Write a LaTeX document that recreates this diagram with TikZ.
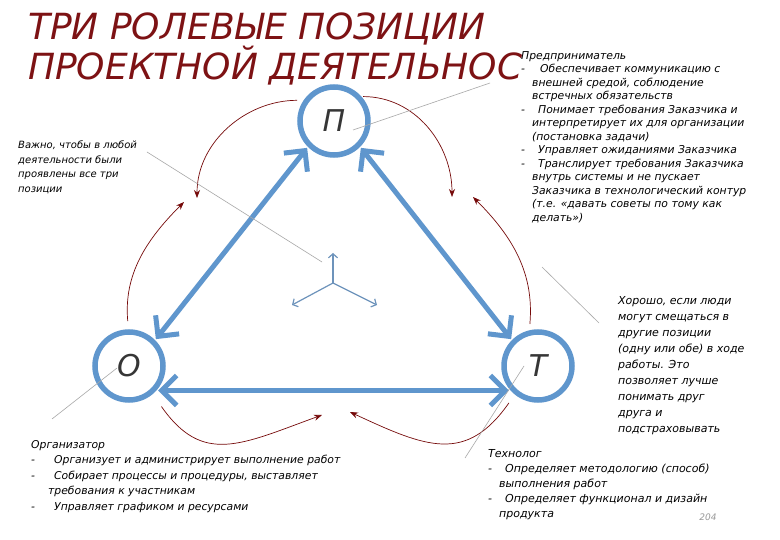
\documentclass[tikz,border=0pt]{standalone}
\usepackage{fontspec}
\setmainfont{DejaVu Sans}
\newfontfamily\bodyfont{DejaVu Sans}
\usetikzlibrary{arrows.meta,positioning}
\definecolor{roleblue}{HTML}{5F96CD}
\definecolor{wine}{HTML}{760A0A}
\definecolor{titlered}{HTML}{7D1214}
\definecolor{raygray}{HTML}{A8A8A8}
\definecolor{pivotblue}{HTML}{6D93BB}
\definecolor{letter}{HTML}{363636}
\tikzset{
  role/.style ={circle,draw=roleblue,line width=5.5pt,minimum size=68pt,inner sep=0pt,
                outer sep=4pt,text=letter,font=\itshape\fontsize{30}{30}\selectfont},
  link/.style ={{Straight Barb[length=15pt,width=30pt]}-{Straight Barb[length=15pt,width=30pt]},
                draw=roleblue,line width=5pt},
  drift/.style={-{Stealth[length=8pt,width=6pt]},draw=wine,line width=0.7pt},
  ray/.style  ={draw=raygray,line width=0.6pt},
  pivot/.style={-{Straight Barb[length=4pt,width=9pt]},draw=pivotblue,line width=1.2pt},
  note/.style ={inner sep=0pt,anchor=north west,align=left,
                font=\bodyfont\itshape\fontsize{10.8}{13.5}\selectfont},
}
\newcommand{\itm}{\makebox[17pt][l]{-}}
\newcommand{\cnt}{\hspace*{11pt}}

\begin{document}
\begin{tikzpicture}[x=1pt,y=-1pt]
\useasboundingbox (0,0) rectangle (780,540);
\fill[white] (0,0) rectangle (780,540);
% title
\node[anchor=north west,inner sep=0pt,align=left,text=titlered,
      font=\itshape\fontsize{36}{37}\selectfont] (ttl) at (28,13)
  {ТРИ РОЛЕВЫЕ ПОЗИЦИИ\\ПРОЕКТНОЙ ДЕЯТЕЛЬНОС};
% roles
\node[role] (P) at (334,121) {П};
\node[role] (O) at (129,366) {О};
\node[role] (T) at (538,366) {Т};
% triangle
\draw[link] (P.225) -- (O.45);
\draw[link] (P.315) -- (T.135);
\draw[link] (O.320) -- (T.220);
% swings between positions
\coordinate (tl) at (197,198);
\coordinate (ml) at (184,202);
\coordinate (tr) at (452,197);
\coordinate (mr) at (473,197);
\coordinate (bl) at (322,415);
\coordinate (br) at (350,412);
\draw[drift,shorten <=5pt] (P.147) to[out=180,in=90] (tl);
\draw[drift,shorten <=7pt] (O.91) to[out=95,in=225] (ml);
\draw[drift] (P.40) to[out=0,in=90] (tr);
\draw[drift,shorten <=5pt] (T.103) to[out=85,in=-45] (mr);
\draw[drift,shorten <=14pt] (O.310) to[out=-55,in=200,looseness=1.3] (bl);
\draw[drift,shorten <=9pt] (T.231) to[out=235,in=-25,looseness=1.3] (br);
% hub
\coordinate (hub) at (333,283);
\coordinate (hubU) at (333,253);
\coordinate (hubL) at (292,305);
\coordinate (hubR) at (377,305);
\draw[pivot] (hub) -- (hubU);
\draw[pivot] (hub) -- (hubL);
\draw[pivot] (hub) -- (hubR);
% notes
\node[note] (ent) at (521,51)
  {Предприниматель\\
   \itm\hspace{2pt}Обеспечивает коммуникацию с\\
   \cnt внешней средой, соблюдение\\
   \cnt встречных обязательств\\
   \itm Понимает требования Заказчика и\\
   \cnt интерпретирует их для организации\\
   \cnt (постановка задачи)\\
   \itm Управляет ожиданиями Заказчика\\
   \itm Транслирует требования Заказчика\\
   \cnt внутрь системы и не пускает\\
   \cnt Заказчика в технологический контур\\
   \cnt (т.е. «давать советы по тому как\\
   \cnt делать»)};
\node[note,font=\bodyfont\itshape\fontsize{10}{14.5}\selectfont] (imp) at (18,141)
  {Важно, чтобы в любой\\деятельности были\\проявлены все три\\позиции};
\node[note,font=\bodyfont\itshape\fontsize{11}{16}\selectfont] (good) at (618,296)
  {Хорошо, если люди\\могут смещаться в\\другие позиции\\(одну или обе) в ходе\\работы. Это\\позволяет лучше\\понимать друг\\друга и\\подстраховывать};
\node[note,font=\bodyfont\itshape\fontsize{10.8}{15.5}\selectfont] (org) at (31,440)
  {Организатор\\
   \itm\hspace{6pt}Организует и администрирует выполнение работ\\
   \itm\hspace{6pt}Собирает процессы и процедуры, выставляет\\
   \hspace*{17pt}требования к участникам\\
   \itm\hspace{6pt}Управляет графиком и ресурсами};
\node[note,font=\bodyfont\itshape\fontsize{11}{15}\selectfont] (tech) at (488,449)
  {Технолог\\
   \itm Определяет методологию (способ)\\
   \cnt выполнения работ\\
   \itm Определяет функционал и дизайн\\
   \cnt продукта};
\node[text=gray!80,font=\itshape\fontsize{9}{9}\selectfont,inner sep=0pt] (num) at (708,517) {204};
% callouts
\coordinate (cP) at (353,130);
\coordinate (cPe) at (490,83);
\coordinate (cI) at (147,152);
\coordinate (cIe) at (322,262);
\coordinate (cG) at (599,323);
\coordinate (cGe) at (542,267);
\coordinate (cO) at (52,419);
\coordinate (cOe) at (117,368);
\coordinate (cT) at (465,458);
\coordinate (cTe) at (524,366);
\draw[ray] (cPe) -- (cP);
\draw[ray] (cI) -- (cIe);
\draw[ray] (cG) -- (cGe);
\draw[ray] (cO) -- (cOe);
\draw[ray] (cT) -- (cTe);
\end{tikzpicture}
\end{document}
